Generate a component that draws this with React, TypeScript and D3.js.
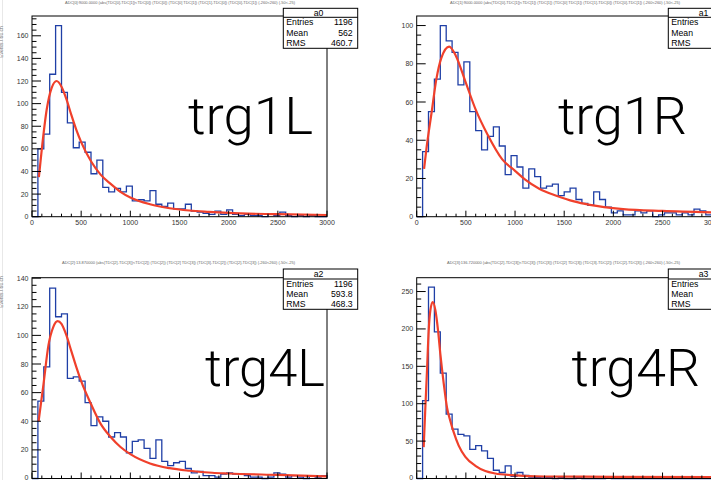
import React from 'react';
import * as d3 from 'd3';

// ---------- data ----------
const xMax = 3000;
const binWidth = 60;
const xMajorTicks = [0, 500, 1000, 1500, 2000, 2500, 3000];
const xMinorStep = 100;

const trg1LCounts = [0, 60, 73, 126, 169, 110, 83, 61, 66, 57, 38, 50, 26, 22, 25, 22, 27, 14, 15, 14, 23, 11, 9, 12, 7, 7, 11, 5, 4, 3, 2, 5, 2, 6, 2, 1, 2, 1, 1, 0, 2, 1, 4, 1, 0, 1, 0, 1, 0, 0];
const trg1RCounts = [0, 34, 55, 72, 100, 92, 86, 69, 81, 55, 45, 35, 42, 47, 37, 22, 32, 26, 15, 25, 21, 15, 16, 17, 11, 13, 15, 9, 7, 6, 13, 9, 5, 2, 3, 1, 1, 3, 2, 3, 0, 1, 2, 2, 1, 2, 1, 4, 3, 1];
const trg4LCounts = [0, 54, 78, 133, 113, 115, 70, 71, 68, 53, 37, 43, 40, 29, 32, 29, 18, 26, 27, 21, 14, 27, 12, 9, 11, 12, 7, 4, 5, 2, 2, 1, 3, 4, 3, 3, 2, 1, 1, 0, 1, 4, 3, 1, 2, 1, 0, 2, 1, 2];
const trg4RCounts = [0, 104, 256, 196, 141, 86, 66, 59, 57, 39, 44, 37, 27, 11, 8, 17, 3, 8, 4, 2, 1, 2, 1, 0, 1, 0, 0, 1, 0, 0, 0, 0, 1, 0, 0, 0, 0, 0, 0, 0, 0, 0, 0, 0, 0, 0, 0, 0, 0, 0];

const trg1LFitX = [70, 100, 150, 200, 250, 300, 350, 400, 450, 500, 600, 700, 800, 900, 1000, 1200, 1400, 1600, 1800, 2000, 2500, 3000];
const trg1LFitY = [35, 60, 95, 114, 120, 115, 104, 90, 77, 66, 49, 37, 29, 22, 17, 11, 7.5, 5.5, 4.3, 3.3, 2.2, 1.5];
const trg1RFitX = [75, 100, 150, 200, 250, 330, 400, 500, 600, 720, 870, 1000, 1100, 1250, 1420, 1600, 1760, 2100, 2500, 3000];
const trg1RFitY = [25, 36, 54, 72, 83, 89, 84, 70, 56, 43, 30, 24, 19.5, 14.5, 11, 8, 6.2, 4, 3, 2.3];
const trg4LFitX = [67, 117, 167, 217, 260, 300, 350, 400, 450, 500, 600, 700, 800, 900, 1000, 1200, 1400, 1600, 1833, 2000, 2500, 3000];
const trg4LFitY = [40, 66, 93, 106, 110, 108, 100, 89, 78, 68, 52, 38, 29, 22, 17, 10.5, 7.2, 5.4, 4, 3.5, 2.5, 1.5];
const trg4RFitX = [71, 88, 105, 122, 139, 163, 190, 217, 240, 275, 308, 342, 376, 427, 495, 597, 698, 800, 970, 1300, 2000, 3000];
const trg4RFitY = [42, 95, 145, 198, 225, 236, 225, 198, 167, 127, 95, 77, 62, 44, 29, 17, 10, 6.7, 4.5, 2.7, 2.3, 2];

const yTicks1L = [0, 20, 40, 60, 80, 100, 120, 140, 160];
const yTicks1R = [0, 20, 40, 60, 80, 100];
const yTicks4L = [0, 20, 40, 60, 80, 100, 120, 140];
const yTicks4R = [0, 50, 100, 150, 200, 250];

const statLabels = ['Entries', 'Mean', 'RMS'];
const stat1L = ['1196', '562', '460.7'];
const stat4L = ['1196', '593.8', '468.3'];

const title1L = 'ADC[0]:9000.0000 (abs(TDC[0]-TDC[1])<TDC[0]) (TDC[0]) (TDC[0] TDC[1]) (TDC[1]-TDC[0]) (TDC[0]-TDC[1]) (-260<260) (-50<-25)';
const title1R = 'ADC[1]:9000.0000 (abs(TDC[0]-TDC[1])<TDC[1]) (TDC[1]) (TDC[0] TDC[1]) (TDC[1]-TDC[0]) (TDC[0]-TDC[1]) (-260<260) (-50<-25)';
const title4L = 'ADC[2]:13.870000 (abs(TDC[2]-TDC[3])<TDC[2]) (TDC[2]) (TDC[2] TDC[3]) (TDC[3]-TDC[2]) (TDC[2]-TDC[3]) (-260<260) (-50<-25)';
const title4R = 'ADC[3]:136.720000 (abs(TDC[2]-TDC[3])<TDC[3]) (TDC[3]) (TDC[2] TDC[3]) (TDC[3]-TDC[2]) (TDC[2]-TDC[3]) (-260<260) (-50<-25)';

// ---------- styles ----------
const HIST_COLOR = '#1f3fa6';
const FIT_COLOR = '#f0402b';
const FONT = "'Liberation Sans', Arial, Helvetica, sans-serif";
const BIG_FONT = "'Helvetica Neue', Roboto, 'Open Sans', Lato, 'Liberation Sans', sans-serif";

type PanelProps = {
  counts: number[];
  fitX: number[];
  fitY: number[];
  yMax: number;
  yTicks: number[];
  yMinor: number;
  left: number;
  right: number;
  top: number;
  bottom: number;
  name: string;
  big: string;
  bigX: number;
  bigW: number;
  bigBase: number;
  title: string;
  titleX0: number;
  titleX1: number;
  titleBase: number;
  boxX: number;
  boxTop: number;
  boxSep: number;
  boxBottom: number;
  statValues: string[] | null;
  yTitleY: number | null;
  showXLabels: boolean;
};

function Panel(p: PanelProps) {
  const x = d3.scaleLinear().domain([0, xMax]).range([p.left, p.right]);
  const y = d3.scaleLinear().domain([0, p.yMax]).range([p.bottom, p.top]);

  const pts: [number, number][] = [[x(0), y(0)]];
  p.counts.forEach((c, i) => {
    pts.push([x(i * binWidth), y(c)]);
    pts.push([x((i + 1) * binWidth), y(c)]);
  });
  pts.push([x(xMax), y(0)]);
  const histD = d3.line()(pts) || '';

  const fitD =
    d3
      .line<number>()
      .x((_, i) => x(p.fitX[i]))
      .y((d) => y(d))
      .curve(d3.curveMonotoneX)(p.fitY) || '';

  const yMinorTicks = d3.range(0, p.yMax, p.yMinor).filter((v) => !p.yTicks.includes(v));
  const xMinorTicks = d3.range(0, xMax + 1, xMinorStep).filter((v) => !xMajorTicks.includes(v));

  const boxW = 74.4;
  const rowH = (p.boxBottom - p.boxSep) / 3;

  return (
    <g>
      {/* title */}
      <text
        x={p.titleX0}
        y={p.titleBase}
        fontSize={4.2}
        fill="#666"
        fontFamily={FONT}
        textLength={p.titleX1 - p.titleX0}
        lengthAdjust="spacingAndGlyphs"
      >
        {p.title}
      </text>
      {p.yTitleY !== null && (
        <text
          transform={`translate(2.5, ${p.yTitleY}) rotate(-90)`}
          fontSize={5}
          fill="#777"
          fontFamily={FONT}
          textAnchor="middle"
        >
          Events / 60 ch
        </text>
      )}
      {/* histogram */}
      <path d={histD} fill="none" stroke={HIST_COLOR} strokeWidth={1.3} />
      {/* fit */}
      <path d={fitD} fill="none" stroke={FIT_COLOR} strokeWidth={2.2} strokeLinejoin="round" />
      {/* frame */}
      <rect x={p.left} y={p.top} width={p.right - p.left} height={p.bottom - p.top} fill="none" stroke="#000" strokeWidth={1} />
      {/* y ticks */}
      {p.yTicks.map((v) => (
        <g key={'yt' + v}>
          <line x1={p.left} x2={p.left + 9} y1={y(v)} y2={y(v)} stroke="#000" strokeWidth={1} />
          <text x={p.left - 3.5} y={Math.min(y(v) + 2.5, 479.5)} fontSize={7} fill="#333" fontFamily={FONT} textAnchor="end">
            {v}
          </text>
        </g>
      ))}
      {yMinorTicks.map((v) => (
        <line key={'ym' + v} x1={p.left} x2={p.left + 4.5} y1={y(v)} y2={y(v)} stroke="#000" strokeWidth={1} />
      ))}
      {/* x ticks */}
      {xMajorTicks.map((v) => (
        <g key={'xt' + v}>
          <line x1={x(v)} x2={x(v)} y1={p.bottom} y2={p.bottom - 6} stroke="#000" strokeWidth={1} />
          {p.showXLabels && (
            <text x={x(v)} y={p.bottom + 8.5} fontSize={7} fill="#333" fontFamily={FONT} textAnchor="middle">
              {v}
            </text>
          )}
        </g>
      ))}
      {xMinorTicks.map((v) => (
        <line key={'xm' + v} x1={x(v)} x2={x(v)} y1={p.bottom} y2={p.bottom - 3} stroke="#000" strokeWidth={1} />
      ))}
      {/* big label */}
      <text
        x={p.bigX}
        y={p.bigBase}
        fontSize={51}
        fontWeight={300}
        fill="#000"
        fontFamily={BIG_FONT}
        textLength={p.bigW}
        lengthAdjust="spacingAndGlyphs"
      >
        {p.big}
      </text>
      {/* stat box */}
      <rect x={p.boxX} y={p.boxTop} width={boxW} height={p.boxBottom - p.boxTop} fill="#fff" stroke="#000" strokeWidth={1} />
      <line x1={p.boxX} x2={p.boxX + boxW} y1={p.boxSep} y2={p.boxSep} stroke="#000" strokeWidth={1} />
      <text
        x={p.boxX + boxW / 2 - 2}
        y={p.boxSep - 1.8}
        fontSize={8.7}
        fill="#000"
        fontFamily={FONT}
        textAnchor="middle"
      >
        {p.name}
      </text>
      {statLabels.map((l, i) => (
        <text key={l} x={p.boxX + 3} y={p.boxSep + rowH * (i + 1) - 2.2} fontSize={8.7} fill="#000" fontFamily={FONT}>
          {l}
        </text>
      ))}
      {p.statValues &&
        p.statValues.map((v, i) => (
          <text
            key={'sv' + i}
            x={p.boxX + boxW - 5}
            y={p.boxSep + rowH * (i + 1) - 2.2}
            fontSize={8.7}
            fill="#000"
            fontFamily={FONT}
            textAnchor="end"
          >
            {v}
          </text>
        ))}
    </g>
  );
}

export default function App() {
  return (
    <svg
      width={711}
      height={480}
      style={{ position: 'absolute', left: 0, top: 0, background: '#fff' }}
    >
      <rect x={0} y={0} width={711} height={480} fill="#fff" />
      <line x1={2.5} x2={2.5} y1={0} y2={480} stroke="#e8e8e8" strokeWidth={1} />
      <Panel
        counts={trg1LCounts}
        fitX={trg1LFitX}
        fitY={trg1LFitY}
        yMax={177.5}
        yTicks={yTicks1L}
        yMinor={5}
        left={32}
        right={327}
        top={16}
        bottom={216.7}
        name="a0"
        big="trg1L"
        bigX={188}
        bigW={125}
        bigBase={134}
        title={title1L}
        titleX0={65}
        titleX1={295}
        titleBase={4}
        boxX={283.3}
        boxTop={8.3}
        boxSep={17.3}
        boxBottom={48.3}
        statValues={stat1L}
        yTitleY={42}
        showXLabels={true}
      />
      <Panel
        counts={trg1RCounts}
        fitX={trg1RFitX}
        fitY={trg1RFitY}
        yMax={105}
        yTicks={yTicks1R}
        yMinor={5}
        left={416.7}
        right={711.7}
        top={16}
        bottom={216.7}
        name="a1"
        big="trg1R"
        bigX={558}
        bigW={129}
        bigBase={134}
        title={title1R}
        titleX0={450}
        titleX1={680}
        titleBase={4}
        boxX={668.3}
        boxTop={8.3}
        boxSep={17.3}
        boxBottom={48.3}
        statValues={null}
        yTitleY={null}
        showXLabels={true}
      />
      <Panel
        counts={trg4LCounts}
        fitX={trg4LFitX}
        fitY={trg4LFitY}
        yMax={140.3}
        yTicks={yTicks4L}
        yMinor={5}
        left={32}
        right={327}
        top={277.7}
        bottom={478.5}
        name="a2"
        big="trg4L"
        bigX={205}
        bigW={120}
        bigBase={386}
        title={title4L}
        titleX0={62}
        titleX1={295}
        titleBase={264}
        boxX={283.3}
        boxTop={269}
        boxSep={279}
        boxBottom={309.3}
        statValues={stat4L}
        yTitleY={292}
        showXLabels={false}
      />
      <Panel
        counts={trg4RCounts}
        fitX={trg4RFitX}
        fitY={trg4RFitY}
        yMax={268.5}
        yTicks={yTicks4R}
        yMinor={10}
        left={416.7}
        right={711.7}
        top={277.7}
        bottom={478.5}
        name="a3"
        big="trg4R"
        bigX={571.5}
        bigW={128.5}
        bigBase={386}
        title={title4R}
        titleX0={447}
        titleX1={680}
        titleBase={264}
        boxX={668.3}
        boxTop={269}
        boxSep={279}
        boxBottom={309.3}
        statValues={null}
        yTitleY={null}
        showXLabels={false}
      />
    </svg>
  );
}
